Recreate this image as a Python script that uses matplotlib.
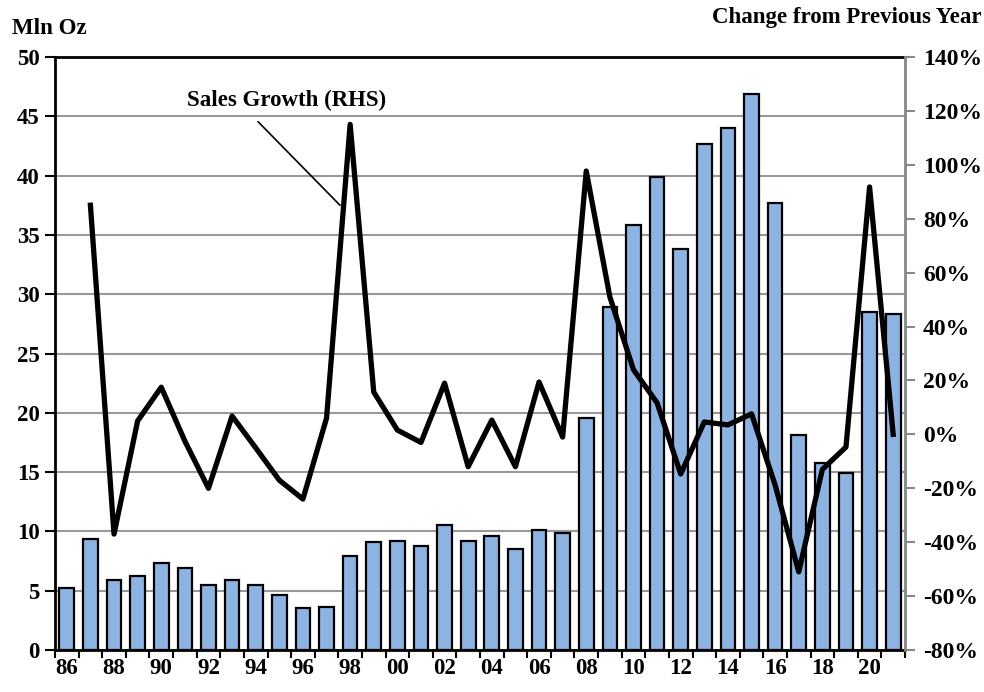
import matplotlib.pyplot as plt
from matplotlib.ticker import FuncFormatter, MultipleLocator

# annual sales (Mln Oz) and growth vs previous year
years = list(range(1986, 2022))
sales = [5.2, 9.4, 5.9, 6.2, 7.3, 6.9, 5.5, 5.9, 5.5, 4.6, 3.5, 3.6,
         7.9, 9.1, 9.2, 8.8, 10.5, 9.2, 9.6, 8.5, 10.1, 9.9,
         19.6, 28.9, 35.8, 39.9, 33.8, 42.7, 44.0, 46.9, 37.7, 18.1,
         15.8, 14.9, 28.5, 28.3]
growth = [None, 0.85, -0.37, 0.05, 0.175, -0.025, -0.20, 0.068, -0.05,
          -0.17, -0.24, 0.06, 1.15, 0.157, 0.016, -0.03, 0.19, -0.12,
          0.053, -0.12, 0.194, -0.01, 0.977, 0.51, 0.24, 0.117, -0.147,
          0.046, 0.035, 0.076, -0.188, -0.51, -0.13, -0.047, 0.918, 0.0]
labels = ["%02d" % (y % 100) if y % 2 == 0 else "" for y in years]

plt.rcParams['font.family'] = 'Liberation Serif'
plt.rcParams['font.weight'] = 'bold'

fig = plt.figure(figsize=(9.84, 6.92), dpi=100)
ax = fig.add_axes([55 / 984, 42 / 692, 850 / 984, 593 / 692])
ax2 = ax.twinx()

x = list(range(len(years)))
ax.bar(x, sales, width=0.62, color="#8DB3E2", edgecolor="black", linewidth=1.6, zorder=3)
ax.set_ylim(0, 50)
ax.set_xlim(-0.5, len(years) - 0.5)
ax.yaxis.set_major_locator(MultipleLocator(5))
ax.grid(axis="y", color="#999999", linewidth=1.5, zorder=0)
ax.set_axisbelow(True)

ax.set_xticks(x)
ax.set_xticklabels(labels)
ax.tick_params(axis="x", which="major", length=0, pad=6, labelsize=16.5)
ax.set_xticks([i - 0.5 for i in range(len(years) + 1)], minor=True)
ax.tick_params(axis="x", which="minor", length=6, width=1.5, direction="out")
ax.tick_params(axis="y", length=7, width=1.5, labelsize=16.5, pad=4)
for s in ["left", "top", "bottom"]:
    ax.spines[s].set_linewidth(2)
ax.spines["right"].set_visible(False)

xs = [i for i, g in zip(x, growth) if g is not None]
gs = [g for g in growth if g is not None]
ax2.plot(xs, gs, color="black", linewidth=3.8, zorder=5)
ax2.set_ylim(-0.8, 1.4)
ax2.yaxis.set_major_locator(MultipleLocator(0.2))
ax2.yaxis.set_major_formatter(FuncFormatter(lambda v, p: "%d%%" % round(v * 100)))
ax2.tick_params(axis="y", length=7, width=1.5, color="#888888", labelsize=17, pad=6)
ax2.spines["right"].set_color("#888888")
ax2.spines["right"].set_linewidth(2)
for s in ["left", "top", "bottom"]:
    ax2.spines[s].set_visible(False)

ax2.annotate("", xy=(11.57, 0.85), xytext=(8.1, 1.16),
             arrowprops=dict(arrowstyle="-", color="black", lw=1.2,
                             shrinkA=0, shrinkB=0))
ax2.text(9.3, 1.24, "Sales Growth (RHS)", ha="center", va="center",
         fontsize=16.5, fontweight="bold")

fig.text(12 / 984, 1 - 28 / 692, "Mln Oz", fontsize=16.5, fontweight="bold", va="center")
fig.text(981 / 984, 1 - 17 / 692, "Change from Previous Year", fontsize=16.5,
         fontweight="bold", ha="right", va="center")

fig.savefig("out.png", dpi=100)
